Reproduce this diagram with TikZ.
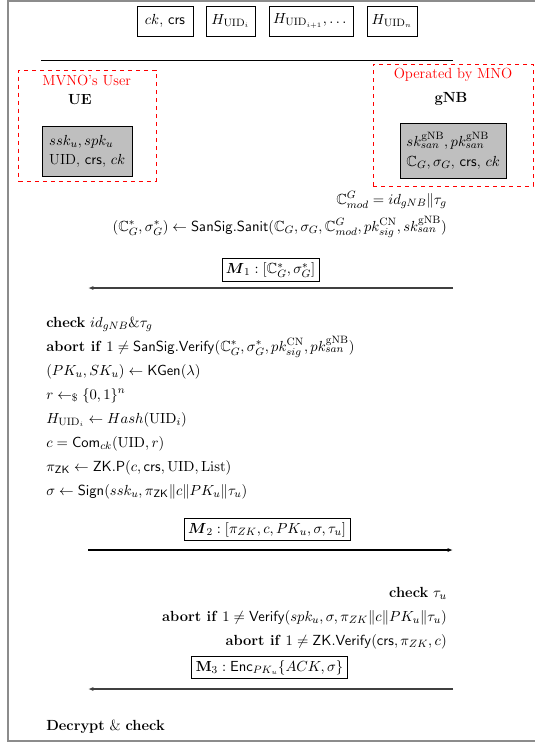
\documentclass[tikz,border=0pt]{standalone}
\usepackage{amsmath,amssymb}
\usepackage{xcolor}
\usepackage{tikz}
\usetikzlibrary{arrows.meta,positioning}
\tikzset{
  txt/.style={
    inner sep=0pt,
    font=\fontsize{11}{13.2}\selectfont
  },
  keybox/.style={
    draw,
    minimum height=22.5pt,
    inner xsep=3pt,
    font=\fontsize{11}{13.2}\selectfont
  },
  secretbox/.style={
    draw,
    fill=black!25,
    align=left,
    inner xsep=5pt,
    font=\fontsize{11}{14.5}\selectfont
  },
  rolebox/.style={
    draw=red,
    dashed,
    line width=0.75pt
  },
  rolename/.style={
    text=red,
    inner sep=0pt,
    font=\fontsize{11}{13.2}\selectfont
  },
  partyname/.style={
    inner sep=0pt,
    font=\fontsize{11}{13.2}\selectfont\bfseries
  },
  msgbox/.style={
    draw,
    anchor=south,
    inner sep=3pt,
    font=\fontsize{11}{13.2}\selectfont
  },
  leftact/.style={txt, anchor=base west},
  rightact/.style={txt, anchor=base east},
  msgflow/.style={-{Latex[length=4pt,width=3pt]}, line width=0.8pt, black!75}
}

\begin{document}
\begin{tikzpicture}[x=0.75pt, y=-0.75pt]
  \useasboundingbox (0,0) rectangle (535,744);
  % outer frame (right edge cut off)
  \draw[black!45, line width=0.9pt] (536,1) -| (8,741) -- (536,741);

  % public list
  \node[keybox, minimum width=42pt] (crs) at (165,21) {$ck$, $\mathsf{crs}$};
  \node[keybox, minimum width=36.75pt] (hi) at (230.5,21) {$H_{\mathrm{UID}_i}$};
  \node[keybox, minimum width=61.5pt] (hnext) at (311,21) {$H_{\mathrm{UID}_{i+1}}, \dots$};
  \node[keybox, minimum width=37.5pt] (hn) at (392,21) {$H_{\mathrm{UID}_n}$};
  \coordinate (barL) at (41,60.5);
  \coordinate (barR) at (453,60.5);
  \draw[line width=1.2pt] (barL) -- (barR);

  % parties
  \node[rolebox, minimum width=102.9pt, minimum height=83.25pt] (ueframe) at (87.4,125.5) {};
  \node[rolename] (ueowner) at (86.7,80) {MVNO's User};
  \node[partyname] (ue) at (80,100) {UE};
  \node[secretbox, minimum width=66.75pt, minimum height=37.9pt] (uekeys) at (87.2,151.2)
    {$ssk_u, spk_u$\\UID, $\mathsf{crs}$, $ck$};

  \node[rolebox, minimum width=120pt, minimum height=91.5pt] (gnbframe) at (453,125) {};
  \node[rolename] (gnbowner) at (453,75) {Operated by MNO};
  \node[partyname] (gnb) at (451,99) {gNB};
  \node[secretbox, minimum width=79.9pt, minimum height=40.9pt] (gnbkeys) at (453.2,150.7)
    {$sk_{san}^{\mathrm{gNB}}, pk_{san}^{\mathrm{gNB}}$\\$\mathbb{C}_G, \sigma_G$, $\mathsf{crs}$, $ck$};

  % gNB sanitises
  \node[rightact] (cmod) at (447,204) {$\mathbb{C}_{mod}^G = id_{gNB} \| \tau_g$};
  \node[rightact] (sanit) at (447,231)
    {$(\mathbb{C}_G^*, \sigma_G^*) \leftarrow \mathsf{SanSig.Sanit}(\mathbb{C}_G, \sigma_G, \mathbb{C}_{mod}^G, pk_{sig}^{\mathrm{CN}}, sk_{san}^{\mathrm{gNB}})$};

  \coordinate (ueA) at (88,288);
  \coordinate (gnbA) at (453,288);
  \node[msgbox] (m1) at (270.5,282) {$\boldsymbol{M}_1 : [\mathbb{C}_G^*, \sigma_G^*]$};
  \draw[msgflow] (gnbA) -- (ueA);

  % UE side
  \node[leftact] (chk) at (46,327) {\textbf{check} $id_{gNB} \& \tau_g$};
  \node[leftact] (abrt) at (46,351)
    {\textbf{abort if} $1 \neq \mathsf{SanSig.Verify}(\mathbb{C}_G^*, \sigma_G^*, pk_{sig}^{\mathrm{CN}}, pk_{san}^{\mathrm{gNB}})$};
  \node[leftact] (kgen) at (46,375) {$(PK_u, SK_u) \leftarrow \mathsf{KGen}(\lambda)$};
  \node[leftact] (rnd) at (46,399) {$r \leftarrow_{\$} \{0,1\}^n$};
  \node[leftact] (hsh) at (46,423) {$H_{\mathrm{UID}_i} \leftarrow Hash(\mathrm{UID}_i)$};
  \node[leftact] (com) at (46,447) {$c = \mathsf{Com}_{ck}(\mathrm{UID}, r)$};
  \node[leftact] (zkp) at (46,471) {$\pi_{\mathsf{ZK}} \leftarrow \mathsf{ZK.P}(c, \mathsf{crs}, \mathrm{UID}, \mathrm{List})$};
  \node[leftact] (sgn) at (46,495) {$\sigma \leftarrow \mathsf{Sign}(ssk_u, \pi_{\mathsf{ZK}} \| c \| PK_u \| \tau_u)$};

  \coordinate (ueB) at (88,550);
  \coordinate (gnbB) at (453,550);
  \node[msgbox] (m2) at (267,541) {$\boldsymbol{M}_2 : [\pi_{ZK}, c, PK_u, \sigma, \tau_u]$};
  \draw[msgflow, black] (ueB) -- (gnbB);

  % gNB verifies
  \node[rightact] (chktau) at (447,597) {\textbf{check} $\tau_u$};
  \node[rightact] (vfy) at (447,621)
    {\textbf{abort if} $1 \neq \mathsf{Verify}(spk_u, \sigma, \pi_{ZK} \| c \| PK_u \| \tau_u)$};
  \node[rightact] (zkv) at (447,645)
    {\textbf{abort if} $1 \neq \mathsf{ZK.Verify}(\mathsf{crs}, \pi_{ZK}, c)$};

  \coordinate (ueC) at (88,689);
  \coordinate (gnbC) at (453,689);
  \node[msgbox] (m3) at (269.5,679) {$\mathbf{M}_3 : \mathsf{Enc}_{PK_u}\{ACK, \sigma\}$};
  \draw[msgflow] (gnbC) -- (ueC);

  \node[leftact] (dec) at (46,730) {\textbf{Decrypt} \& \textbf{check}};
\end{tikzpicture}
\end{document}
